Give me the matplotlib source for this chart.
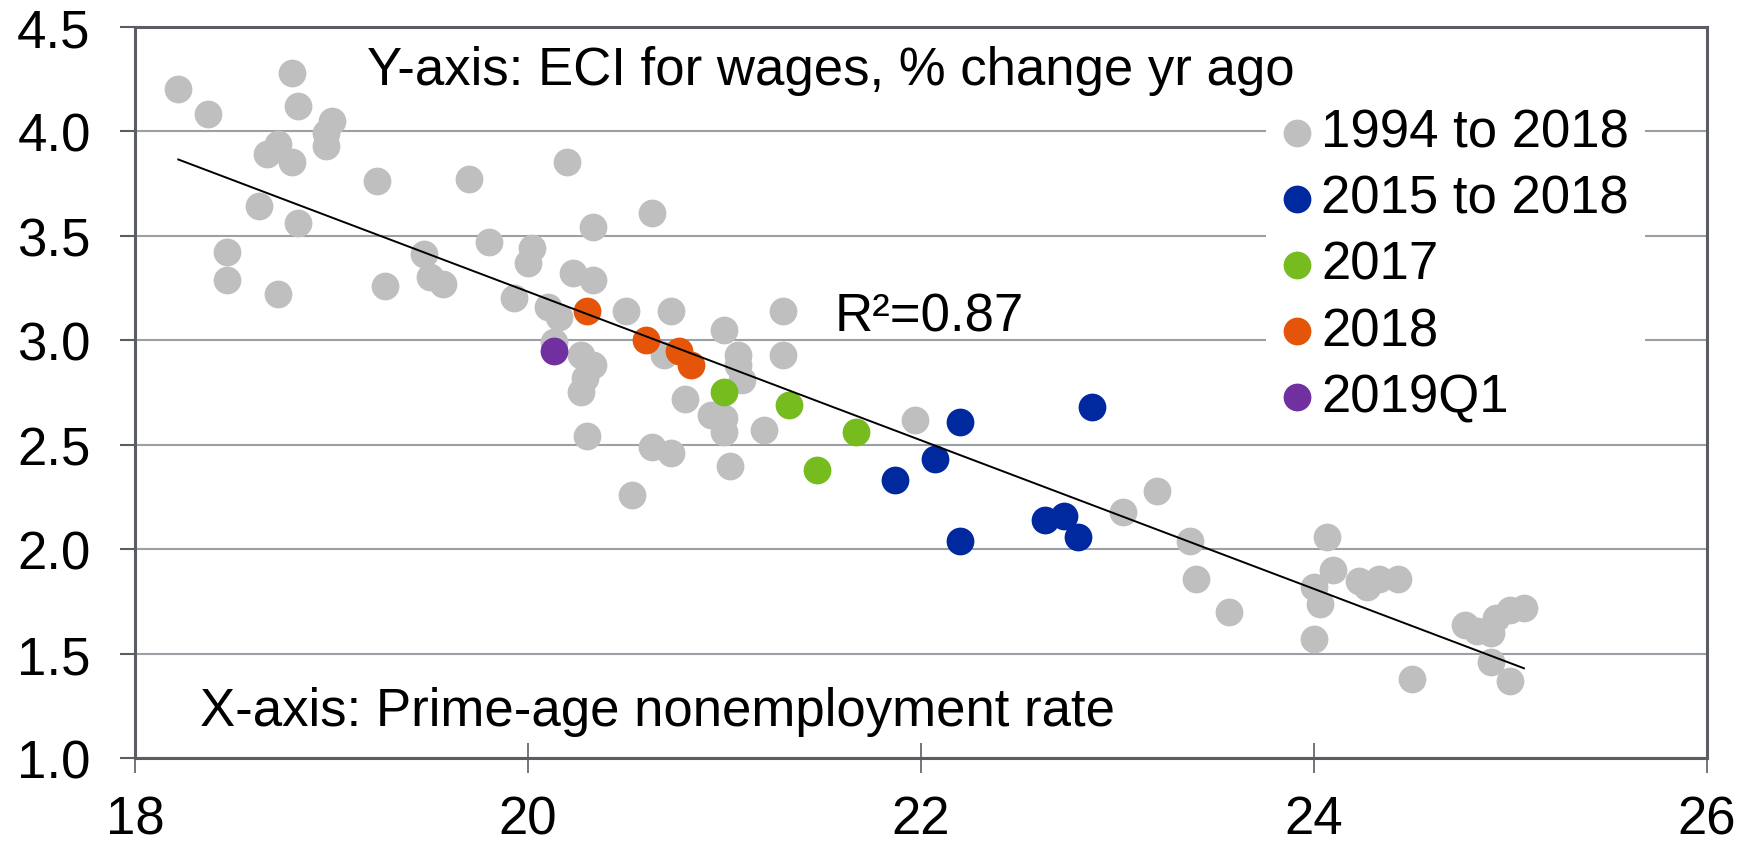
import numpy as np
import matplotlib.pyplot as plt

plt.rcParams['font.family'] = ['Liberation Sans', 'DejaVu Sans']

# 1994 to 2018 (visible gray dots)
gray_x = [18.22, 18.37, 18.80, 18.83, 19.00, 18.97, 18.97, 18.73, 18.67, 18.80,
          19.23, 19.70, 20.20, 18.63, 18.83, 18.47, 18.47, 18.73, 19.27, 19.47,
          19.50, 19.57,
          20.63, 20.33, 19.80, 20.02, 20.00, 20.23, 20.33, 19.93, 20.10, 20.16,
          20.50, 20.73, 21.30, 21.00, 20.69, 20.13, 20.27, 20.33, 20.29, 20.27,
          21.07, 21.30, 21.09, 21.07, 20.80, 20.93, 21.00, 21.00, 21.20, 21.97,
          20.30, 20.63, 20.73, 21.03, 20.53,
          23.20, 23.03, 23.37, 23.40, 23.57, 24.07, 24.10, 24.00, 24.03, 24.00,
          24.23, 24.27, 24.33, 24.43, 24.50, 24.77, 24.83, 24.90, 24.93, 25.00,
          25.07, 24.90, 25.00]
gray_y = [4.20, 4.08, 4.28, 4.12, 4.05, 3.99, 3.93, 3.94, 3.89, 3.85,
          3.76, 3.77, 3.85, 3.64, 3.56, 3.42, 3.29, 3.22, 3.26, 3.41,
          3.30, 3.27,
          3.61, 3.54, 3.47, 3.44, 3.37, 3.32, 3.29, 3.20, 3.16, 3.11,
          3.14, 3.14, 3.14, 3.05, 2.93, 2.99, 2.93, 2.88, 2.82, 2.75,
          2.93, 2.93, 2.81, 2.88, 2.72, 2.64, 2.63, 2.56, 2.57, 2.62,
          2.54, 2.49, 2.46, 2.40, 2.26,
          2.28, 2.18, 2.04, 1.86, 1.70, 2.06, 1.90, 1.82, 1.74, 1.57,
          1.85, 1.82, 1.86, 1.86, 1.38, 1.64, 1.61, 1.60, 1.67, 1.71,
          1.72, 1.46, 1.37]

# 2015 to 2018
blue_x = [22.20, 22.07, 21.87, 22.87, 22.20, 22.63, 22.73, 22.80]
blue_y = [2.61, 2.43, 2.33, 2.68, 2.04, 2.14, 2.16, 2.06]

# 2017
green_x = [21.00, 21.33, 21.67, 21.47]
green_y = [2.75, 2.69, 2.56, 2.38]

# 2018
orange_x = [20.30, 20.60, 20.77, 20.83]
orange_y = [3.14, 3.00, 2.95, 2.88]

# 2019Q1
purple_x = [20.13]
purple_y = [2.95]

fig = plt.figure(figsize=(17.52, 8.45), dpi=100)
ax = fig.add_axes([0.0771, 0.1014, 0.897, 0.866])

ms = 400
ax.scatter(gray_x, gray_y, s=ms, c='#BFBFBF', lw=0, zorder=3, label='1994 to 2018')
ax.scatter(blue_x, blue_y, s=ms, c='#0029A0', lw=0, zorder=4, label='2015 to 2018')
ax.scatter(green_x, green_y, s=ms, c='#77BC1F', lw=0, zorder=5, label='2017')
ax.scatter(orange_x, orange_y, s=ms, c='#E4550A', lw=0, zorder=5, label='2018')
ax.scatter(purple_x, purple_y, s=ms, c='#7030A0', lw=0, zorder=5, label='2019Q1')

# linear trend over the full sample
all_x = np.array(gray_x + blue_x + green_x + orange_x + purple_x)
all_y = np.array(gray_y + blue_y + green_y + orange_y + purple_y)
b, a = np.polyfit(all_x, all_y, 1)
xx = np.array([all_x.min(), all_x.max()])
ax.plot(xx, a + b * xx, color='black', lw=1.4, zorder=6)

ax.set_xlim(18, 26)
ax.set_ylim(1.0, 4.5)
ax.set_xticks([18, 20, 22, 24, 26])
ax.set_yticks(np.arange(1.0, 4.51, 0.5))
ax.set_yticklabels(['%.1f' % v for v in np.arange(1.0, 4.51, 0.5)])
ax.yaxis.grid(True, color='#9AA0A6', lw=1.5, zorder=0)
ax.set_axisbelow(True)
for sp in ax.spines.values():
    sp.set_color('#5A5E63')
    sp.set_linewidth(2.2)
ax.tick_params(axis='y', direction='out', length=11, width=1.5, color='#5A5E63',
               labelsize=38, pad=21)
ax.tick_params(axis='x', direction='inout', length=22, width=1.2, color='#5A5E63',
               labelsize=38, pad=15)

ax.text(19.18, 4.223, 'Y-axis: ECI for wages, % change yr ago', fontsize=38,
        va='baseline', zorder=8)
ax.text(18.33, 1.159, 'X-axis: Prime-age nonemployment rate', fontsize=38, va='baseline')
ax.text(21.56, 3.045, 'R²=0.87', fontsize=38, va='baseline')

leg = ax.legend(loc='upper left', bbox_to_anchor=(0.7195, 0.9106), fontsize=38,
                frameon=True, fancybox=False, edgecolor='none', facecolor='white',
                framealpha=1, handlelength=0.6, handletextpad=0.15, labelspacing=0.305,
                borderpad=0.3, borderaxespad=0, scatterpoints=1)
leg.set_zorder(7)

fig.savefig('out.png', dpi=100)
